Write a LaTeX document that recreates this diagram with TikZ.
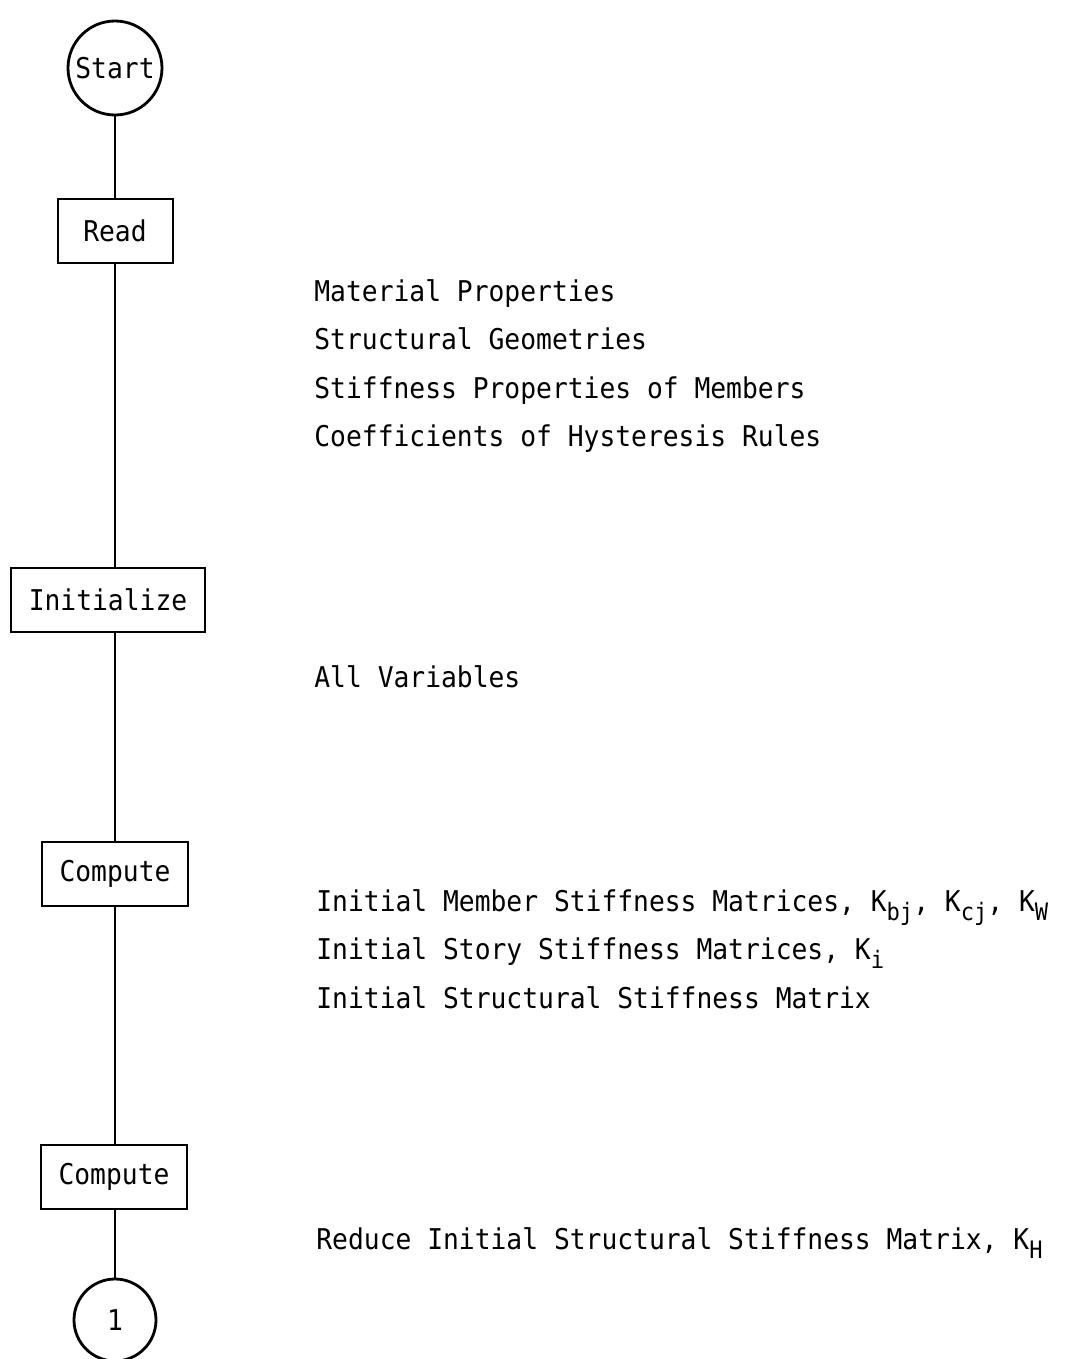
\documentclass[tikz,border=0pt]{standalone}
\usepackage{fontspec}
\setmonofont{DejaVu Sans Mono}[FakeStretch=0.92]
\usepackage{tikz}
\usetikzlibrary{positioning}

\tikzset{
  flow/.style={draw, line width=1pt, font=\ttfamily\fontsize{14.3}{16}\selectfont},
  term/.style={flow, circle, line width=1.4pt, inner sep=0pt},
  stepbox/.style={flow, rectangle, minimum height=32pt, inner xsep=9pt},
  note/.style={anchor=base west, inner sep=0pt, font=\ttfamily\fontsize{14.3}{16}\selectfont},
  link/.style={line width=1pt}
}
% lowered, smaller index after K
\newcommand{\subsc}[1]{\raisebox{-0.6ex}{\fontsize{12}{12}\selectfont #1}}

\begin{document}
\begin{tikzpicture}[x=0.5pt,y=-0.5pt]
\useasboundingbox (0,0) rectangle (1070,1359);

%flow column
\node[term, minimum size=47pt] (start) at (115,68) {Start};
\node[stepbox, minimum width=57.5pt] (read) at (115,231) {Read};
\node[stepbox] (init) at (108,600) {Initialize};
\node[stepbox] (comp) at (115,874) {Compute};
\node[stepbox] (reduce) at (114,1177) {Compute};
\node[term, minimum size=41pt] (one) at (115,1320) {1};

\draw[link] (start) -- (read);
\draw[link] (read.south) -- (read.south |- init.north);
\draw[link] (comp.north |- init.south) -- (comp.north);
\draw[link] (comp) -- (reduce.north -| comp);
\draw[link] (reduce.south -| one) -- (one);

%what each step does
\foreach \txt [count=\i] in {Material Properties, Structural Geometries,
  Stiffness Properties of Members, Coefficients of Hysteresis Rules}
  \node[note] (prop\i) at (314,252.5+48.5*\i) {\txt};

\node[note] (vars) at (314,687) {All Variables};

\foreach \txt [count=\i] in {
  {Initial Member Stiffness Matrices, K\subsc{bj}, K\subsc{cj}, K\subsc{W}},
  {Initial Story Stiffness Matrices, K\subsc{i}},
  {Initial Structural Stiffness Matrix}}
  \node[note] (stiff\i) at (316,862.5+48.5*\i) {\txt};

\node[note] (kh) at (316,1249) {Reduce Initial Structural Stiffness Matrix, K\subsc{H}};

\end{tikzpicture}
\end{document}
